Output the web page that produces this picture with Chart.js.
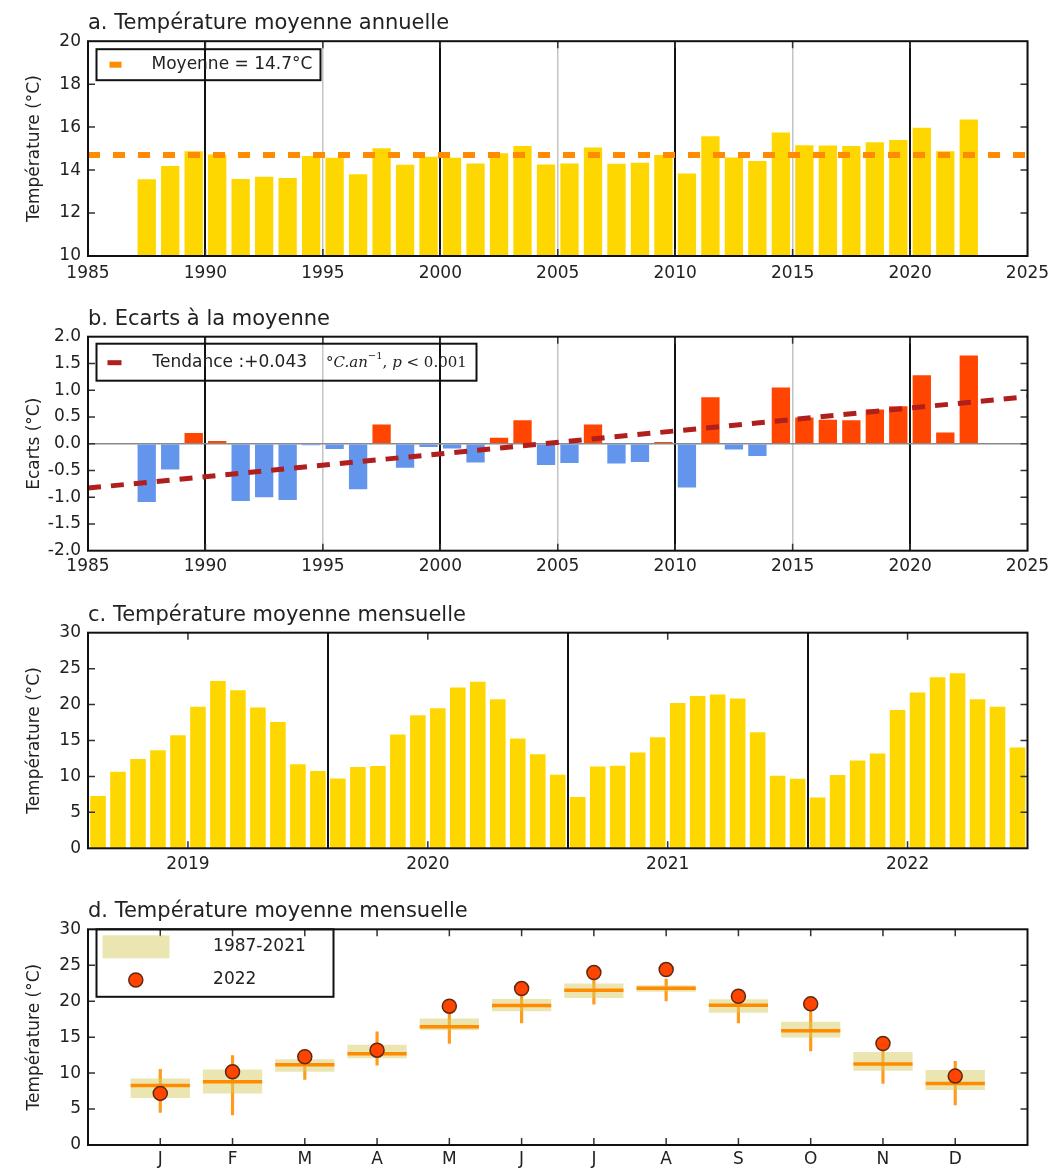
<!DOCTYPE html>
<html>
<head>
<meta charset="utf-8">
<script src="https://cdn.jsdelivr.net/npm/chart.js@4.4.1/dist/chart.umd.min.js"></script>
<style>
  body { margin: 0; background: #fff; }
  .wrap { position: relative; width: 1053px; height: 1170px; }
  .panel { position: absolute; left: 0; width: 1053px; }
</style>
</head>
<body>
<div class="wrap">
  <div class="panel" style="top:0;height:290px"><canvas id="chartA"></canvas></div>
  <div class="panel" style="top:290px;height:300px"><canvas id="chartB"></canvas></div>
  <div class="panel" style="top:590px;height:300px"><canvas id="chartC"></canvas></div>
  <div class="panel" style="top:890px;height:280px"><canvas id="chartD"></canvas></div>
</div>
<script>
// Annual data (panel a / b)
const years = [1987, 1988, 1989, 1990, 1991, 1992, 1993, 1994, 1995, 1996, 1997, 1998,
  1999, 2000, 2001, 2002, 2003, 2004, 2005, 2006, 2007, 2008, 2009, 2010,
  2011, 2012, 2013, 2014, 2015, 2016, 2017, 2018, 2019, 2020, 2021, 2022];
const annualTemp = [13.57, 14.19, 14.88, 14.73, 13.58, 13.69, 13.63, 14.65, 14.57, 13.81, 15.02, 14.25,
  14.62, 14.57, 14.31, 14.78, 15.12, 14.26, 14.31, 15.05, 14.29, 14.34, 14.70, 13.84,
  15.57, 14.59, 14.42, 15.75, 15.16, 15.15, 15.12, 15.30, 15.40, 15.97, 14.88, 16.36];
const meanTemp = 14.7;
const meanSpan = [1985, 2025];
const anomalies = [-1.09, -0.48, 0.20, 0.05, -1.07, -1.00, -1.05, -0.03, -0.10, -0.85, 0.36, -0.45,
  -0.06, -0.09, -0.35, 0.11, 0.44, -0.40, -0.36, 0.36, -0.37, -0.34, 0.03, -0.82,
  0.87, -0.11, -0.23, 1.05, 0.49, 0.45, 0.44, 0.64, 0.70, 1.28, 0.21, 1.65];
const trendYears = [1985, 2025];
const trendValues = [-0.83, 0.88];

// Monthly data 2019-2022 (panel c)
const monthlyTemp = [
  7.27, 10.65, 12.41, 13.66, 15.74, 19.68, 23.29, 21.99, 19.58, 17.59, 11.71, 10.74,
  9.72, 11.30, 11.44, 15.83, 18.52, 19.49, 22.36, 23.19, 20.74, 15.28, 13.10, 10.23,
  7.13, 11.39, 11.48, 13.33, 15.46, 20.23, 21.20, 21.39, 20.83, 16.16, 10.09, 9.68,
  7.08, 10.19, 12.22, 13.19, 19.26, 21.67, 23.80, 24.35, 20.74, 19.68, 14.03];
const monthYears = ['2019', '2020', '2021', '2022'];
const yearTickPos = [5, 17, 29, 41];
const yearBreaks = [12, 24, 36];

// Monthly climatology 1987-2021 vs 2022 (panel d)
const monthLabels = ['J', 'F', 'M', 'A', 'M', 'J', 'J', 'A', 'S', 'O', 'N', 'D'];
const boxLow = [6.53, 7.18, 10.19, 12.08, 15.97, 18.61, 20.46, 21.30, 18.38, 14.95, 10.32, 7.64];
const boxHigh = [9.26, 10.51, 11.94, 13.94, 17.59, 20.32, 22.45, 22.22, 20.28, 17.13, 12.92, 10.42];
const medianTemp = [8.29, 8.80, 11.16, 12.69, 16.44, 19.40, 21.53, 21.81, 19.44, 15.88, 11.25, 8.56];
const whiskerLow = [4.54, 4.17, 9.12, 11.11, 14.12, 16.99, 19.58, 20.05, 16.99, 13.10, 8.56, 5.56];
const whiskerHigh = [10.51, 12.45, 12.50, 15.74, 18.52, 21.06, 23.15, 23.06, 20.37, 18.98, 13.50, 11.62];
const temp2022 = [7.18, 10.19, 12.27, 13.19, 19.31, 21.76, 23.98, 24.40, 20.69, 19.63, 14.12, 9.58];

const GOLD = '#ffd700';
const BOX_FILL = 'rgba(215, 205, 100, 0.5)';
const SANS = '"DejaVu Sans", sans-serif';
const SERIF = '"DejaVu Serif", serif';
const CLEAR = 'rgba(0,0,0,0)';

Chart.defaults.font.family = SANS;
Chart.defaults.font.size = 17;
Chart.defaults.color = '#222';
Chart.defaults.animation = false;

// tick value from a scriptable context (undefined outside tick contexts)
const tickVal = c => (c && c.tick ? c.tick.value : NaN);

// Frame around the plot area + matplotlib-style inward ticks
const framePlugin = {
  id: 'frame',
  afterDatasetsDraw(chart) {
    const { ctx, chartArea: a, scales } = chart;
    const len = 7;
    ctx.save();
    ctx.strokeStyle = '#333';
    ctx.lineWidth = 1.5;
    scales.x.ticks.forEach(t => {
      if (!t.label) return;
      const px = scales.x.getPixelForValue(t.value);
      if (px <= a.left + 1 || px >= a.right - 1) return;
      ctx.beginPath();
      ctx.moveTo(px, a.bottom); ctx.lineTo(px, a.bottom - len);
      ctx.moveTo(px, a.top); ctx.lineTo(px, a.top + len);
      ctx.stroke();
    });
    scales.y.ticks.forEach(t => {
      const py = scales.y.getPixelForValue(t.value);
      if (py <= a.top + 1 || py >= a.bottom - 1) return;
      ctx.beginPath();
      ctx.moveTo(a.left, py); ctx.lineTo(a.left + len, py);
      ctx.moveTo(a.right, py); ctx.lineTo(a.right - len, py);
      ctx.stroke();
    });
    ctx.strokeStyle = '#111';
    ctx.lineWidth = 2;
    ctx.strokeRect(a.left, a.top, a.right - a.left, a.bottom - a.top);
    ctx.restore();
  }
};

// Legend box drawn inside the plot area
function makeLegend(cfg) {
  return {
    id: 'boxLegend',
    afterDraw(chart) {
      const { ctx, chartArea: a } = chart;
      const bx = a.left + cfg.x, by = a.top + cfg.y;
      ctx.save();
      ctx.strokeStyle = '#111';
      ctx.lineWidth = 2;
      ctx.strokeRect(bx, by, cfg.w, cfg.h);
      cfg.items.forEach(it => {
        const cy = by + it.y;
        if (it.kind === 'dash' || it.kind === 'rect') {
          ctx.fillStyle = it.color;
          ctx.fillRect(bx + it.sx, cy - it.sh / 2, it.sw, it.sh);
        } else if (it.kind === 'dot') {
          ctx.beginPath();
          ctx.arc(bx + it.sx, cy, 7, 0, Math.PI * 2);
          ctx.fillStyle = it.color;
          ctx.fill();
          ctx.lineWidth = 1.5;
          ctx.strokeStyle = '#5c2a12';
          ctx.stroke();
        }
        let tx = bx + it.tx;
        ctx.fillStyle = '#222';
        ctx.textBaseline = 'middle';
        it.text.forEach(seg => {
          ctx.font = seg.font || ('17px ' + SANS);
          tx += seg.dx || 0;
          ctx.fillText(seg.t, tx, cy + (seg.dy || 0));
          tx += ctx.measureText(seg.t).width;
        });
      });
      ctx.restore();
    }
  };
}

function yScale(min, max, step, title, fmt) {
  return {
    min: min, max: max,
    ticks: { stepSize: step, padding: 7, callback: fmt },
    grid: { display: false, drawTicks: false },
    border: { display: false },
    title: { display: true, text: title, font: { size: 17 }, padding: { top: 24, bottom: 0 } },
    afterFit: s => { s.width = 88; }
  };
}

function yearAxis(height, pad) {
  return {
    type: 'linear', min: 1985, max: 2025, offset: false,
    ticks: { stepSize: 5, autoSkip: false, maxRotation: 0, padding: pad, callback: v => String(v) },
    grid: {
      offset: false,
      drawTicks: false,
      color: c => tickVal(c) % 10 === 0 ? '#111' : '#c4c4c4',
      lineWidth: c => tickVal(c) % 10 === 0 ? 2 : 1.5
    },
    border: { display: false },
    afterFit: s => { s.height = height; s.paddingLeft = 0; s.paddingRight = 0; }
  };
}

function baseOptions(title, padTop, xAxis, yAxis) {
  return {
    responsive: true,
    maintainAspectRatio: false,
    layout: { autoPadding: false, padding: { top: padTop, right: 25.5, left: 0, bottom: 0 } },
    plugins: {
      legend: { display: false },
      tooltip: { enabled: false },
      title: {
        display: true, text: title, align: 'start', fullSize: false,
        font: { size: 21, weight: 'normal' }, padding: { top: 0, bottom: 5 }
      }
    },
    scales: { x: xAxis, y: yAxis }
  };
}

// a. Température moyenne annuelle
new Chart(document.getElementById('chartA'), {
  type: 'bar',
  data: {
    datasets: [{
      type: 'bar',
      data: years.map((yr, i) => ({ x: yr + 0.5, y: annualTemp[i] })),
      backgroundColor: GOLD,
      barPercentage: 0.78,
      categoryPercentage: 1,
      order: 2
    }, {
      type: 'line',
      data: meanSpan.map(x => ({ x: x, y: meanTemp })),
      borderColor: '#ff8c00',
      borderWidth: 6,
      borderDash: [12, 13],
      pointRadius: 0,
      order: 1
    }]
  },
  options: baseOptions('a. Température moyenne annuelle', 11,
    yearAxis(34, 7),
    yScale(10, 20, 2, 'Température (°C)', v => String(v))),
  plugins: [framePlugin, makeLegend({
    x: 8.5, y: 8, w: 224, h: 31,
    items: [{ kind: 'dash', color: '#ff8c00', sx: 13, sw: 12, sh: 6, y: 15.5, tx: 55,
      text: [{ t: 'Moyenne = 14.7°C' }] }]
  })]
});

// b. Ecarts à la moyenne
const optionsB = baseOptions('b. Ecarts à la moyenne', 16.5,
  yearAxis(39.3, 6),
  yScale(-2, 2, 0.5, 'Ecarts (°C)', v => v.toFixed(1)));
optionsB.scales.y.grid = {
  display: true, drawTicks: false, offset: false,
  color: c => tickVal(c) === 0 ? '#8a8a8a' : CLEAR,
  lineWidth: 1.5
};
new Chart(document.getElementById('chartB'), {
  type: 'bar',
  data: {
    datasets: [{
      type: 'bar',
      data: years.map((yr, i) => ({ x: yr + 0.5, y: anomalies[i] })),
      backgroundColor: anomalies.map(v => v >= 0 ? '#ff4500' : '#6495ed'),
      barPercentage: 0.78,
      categoryPercentage: 1,
      order: 2
    }, {
      type: 'line',
      data: trendYears.map((x, i) => ({ x: x, y: trendValues[i] })),
      borderColor: '#b01e1e',
      borderWidth: 5,
      borderDash: [13, 10],
      pointRadius: 0,
      order: 1
    }]
  },
  options: optionsB,
  plugins: [framePlugin, makeLegend({
    x: 8.5, y: 7, w: 380, h: 37,
    items: [{ kind: 'dash', color: '#b01e1e', sx: 11, sw: 14, sh: 5, y: 19, tx: 56,
      text: [
        { t: 'Tendance :+0.043' },
        { t: '°', font: '15px ' + SERIF, dx: 19 },
        { t: 'C.an', font: 'italic 15px ' + SERIF },
        { t: '−1', font: '10px ' + SERIF, dy: -6 },
        { t: ', ', font: '15px ' + SERIF },
        { t: 'p', font: 'italic 15px ' + SERIF },
        { t: ' < 0.001', font: '15px ' + SERIF }
      ] }]
  })]
});

// c. Température moyenne mensuelle (2019-2022)
new Chart(document.getElementById('chartC'), {
  type: 'bar',
  data: {
    datasets: [{
      data: monthlyTemp.map((v, i) => ({ x: i + 0.5, y: v })),
      backgroundColor: GOLD,
      barPercentage: 0.78,
      categoryPercentage: 1
    }]
  },
  options: baseOptions('c. Température moyenne mensuelle', 12.5, {
    type: 'linear', min: 0, max: 47, offset: false,
    afterBuildTicks: s => {
      s.ticks = yearTickPos.concat(yearBreaks).sort((p, q) => p - q).map(v => ({ value: v }));
    },
    ticks: {
      autoSkip: false, maxRotation: 0, padding: 6.5,
      callback: v => { const k = yearTickPos.indexOf(v); return k >= 0 ? monthYears[k] : ''; }
    },
    grid: {
      offset: false,
      drawTicks: false,
      color: c => yearBreaks.includes(tickVal(c)) ? '#111' : CLEAR,
      lineWidth: 2
    },
    border: { display: false },
    afterFit: s => { s.height = 41.7; s.paddingLeft = 0; s.paddingRight = 0; }
  }, yScale(0, 30, 5, 'Température (°C)', v => String(v))),
  plugins: [framePlugin]
});

// d. Température moyenne mensuelle : climatologie 1987-2021 et 2022
const monthPos = monthLabels.map((m, i) => i + 1);
new Chart(document.getElementById('chartD'), {
  type: 'bar',
  data: {
    datasets: [{
      type: 'bar',
      data: monthPos.map((x, i) => ({ x: x, y: [whiskerLow[i], whiskerHigh[i]] })),
      backgroundColor: '#ff9a1a',
      barThickness: 2.5,
      grouped: false,
      order: 3
    }, {
      type: 'bar',
      data: monthPos.map((x, i) => ({ x: x, y: [boxLow[i], boxHigh[i]] })),
      backgroundColor: BOX_FILL,
      barPercentage: 0.82,
      categoryPercentage: 1,
      grouped: false,
      order: 2
    }, {
      type: 'line',
      showLine: false,
      data: monthPos.map((x, i) => ({ x: x, y: medianTemp[i] })),
      pointStyle: 'line',
      pointRadius: 29.6,
      pointBorderColor: '#ff8c00',
      pointBorderWidth: 3.5,
      order: 1
    }, {
      type: 'line',
      showLine: false,
      data: monthPos.map((x, i) => ({ x: x, y: temp2022[i] })),
      pointRadius: 7,
      pointBackgroundColor: '#ff4500',
      pointBorderColor: '#5c2a12',
      pointBorderWidth: 1.5,
      order: 0
    }]
  },
  options: baseOptions('d. Température moyenne mensuelle', 9.1, {
    type: 'linear', min: 0, max: 13, offset: false,
    ticks: {
      stepSize: 1, autoSkip: false, maxRotation: 0, padding: 4,
      callback: v => monthLabels[v - 1] || ''
    },
    grid: { display: false, drawTicks: false, offset: false },
    border: { display: false },
    afterFit: s => { s.height = 25; s.paddingLeft = 0; s.paddingRight = 0; }
  }, yScale(0, 30, 5, 'Température (°C)', v => String(v))),
  plugins: [framePlugin, makeLegend({
    x: 8.5, y: 0, w: 237, h: 67.5,
    items: [
      { kind: 'rect', color: BOX_FILL, sx: 6, sw: 67, sh: 23, y: 17.5, tx: 116.6,
        text: [{ t: '1987-2021' }] },
      { kind: 'dot', color: '#ff4500', sx: 39.3, y: 50.7, tx: 116.6,
        text: [{ t: '2022' }] }
    ]
  })]
});
</script>
</body>
</html>
